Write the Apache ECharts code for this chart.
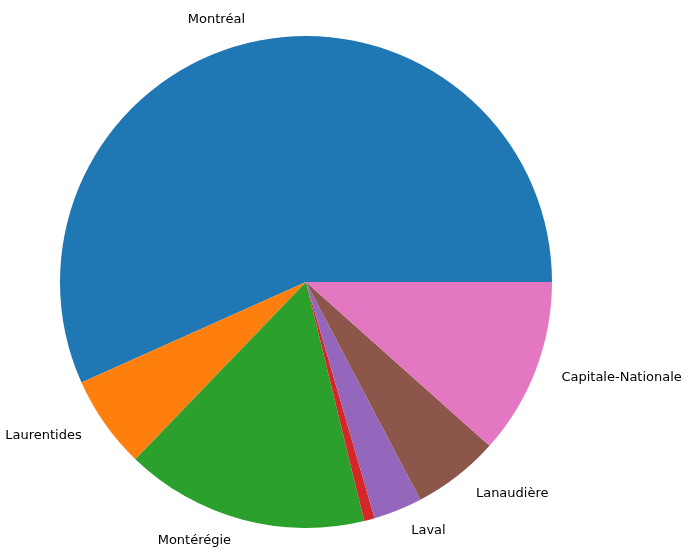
<!DOCTYPE html>
<html><head><meta charset="utf-8">
<script src="https://cdn.jsdelivr.net/npm/echarts@6/dist/echarts.min.js"></script>
<style>html,body{margin:0;background:#fff}#c{width:691px;height:555px}</style>
</head><body><div id="c"></div>
<script>
const categories = ["Montréal","Laurentides","Montérégie","Mauricie","Laval","Lanaudière","Capitale-Nationale"];
const values = [56.7, 6.1, 16.0, 0.7, 3.2, 5.7, 11.6];
const colors = ["#1f77b4","#ff7f0e","#2ca02c","#d62728","#9467bd","#8c564b","#e377c2"];
const chart = echarts.init(document.getElementById('c'));
chart.setOption({
  animation:false,
  series:[{
    type:'pie',
    center:[306,282],
    radius:[0,246],
    startAngle:0,
    clockwise:false,
    minAngle:0,
    avoidLabelOverlap:false,
    data: categories.map((n,i)=>({name:n,value:values[i],itemStyle:{color:colors[i]}})),
    label:{show:true,position:'outside',color:'#000',fontFamily:'DejaVu Sans',fontSize:13},
    labelLine:{show:false,length:22,length2:0},
    emphasis:{disabled:true}
  }]
});
</script></body></html>
